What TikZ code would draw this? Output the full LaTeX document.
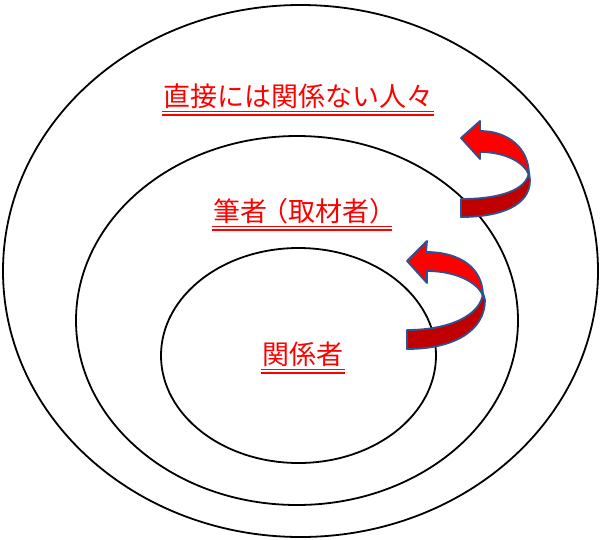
\documentclass[tikz,border=0pt]{standalone}
\usepackage{fontspec}
\newfontfamily\jp{Noto Sans CJK JP}
\begin{document}
\begin{tikzpicture}[x=1pt,y=-1pt,
  ring/.style={draw=black,line width=1.8pt},
  lbl/.style={text=red,font=\jp\fontsize{27}{32}\selectfont,inner sep=0pt,anchor=base},
  uline/.style={draw=red,line width=1.6pt},
  front/.style={fill=red,draw=arrowblue,line width=1.8pt,line join=round},
  back/.style={fill=darkred,draw=arrowblue,line width=1.8pt,line join=round}]
\definecolor{arrowblue}{HTML}{2F528F}
\definecolor{darkred}{HTML}{C00000}
\useasboundingbox (0,0) rectangle (605,539);
\fill[white] (0,0) rectangle (605,539);
% ellipses
\draw[ring] (300.5,271) ellipse [x radius=297.5pt,y radius=266pt];
\draw[ring] (297,320.5) ellipse [x radius=221pt,y radius=184.5pt];
\draw[ring] (298.5,355.5) ellipse [x radius=137.5pt,y radius=107.5pt];
% labels
\node[lbl] (t1) at (298,106) {直接には関係ない人々};
\node[lbl] (t2) at (302,221) {筆者\kern-6pt（取材者）\kern-6pt};
\node[lbl] (t3) at (303,364) {関係者};
\foreach \t in {t1,t2,t3}{
  \draw[uline] ([yshift=-5.5pt,xshift=-1pt]\t.base west) -- ([yshift=-5.5pt,xshift=1pt]\t.base east);
  \draw[uline] ([yshift=-8.7pt,xshift=-1pt]\t.base west) -- ([yshift=-8.7pt,xshift=1pt]\t.base east);
}
% arrow 1
\path[back] (529,172) .. controls (527,190) and (500,199) .. (461,199) -- (461,217)
  .. controls (500,217) and (530,206) .. (530,180) -- cycle;
\path[front] (480,131) .. controls (508,131) and (529,148) .. (529,175)
  .. controls (524,162) and (505,152) .. (480,152) -- (480,159) -- (461,138) -- (480,121) -- cycle;
% arrow 2
\path[back] (483,293) .. controls (481,315) and (450,330) .. (407,330) -- (407,349)
  .. controls (455,349) and (485,330) .. (485,300) -- cycle;
\path[front] (426,252) .. controls (460,252) and (483,268) .. (483,296)
  .. controls (478,282) and (455,271) .. (427,271) -- (427,283) -- (407,261) -- (427,241) -- cycle;
\end{tikzpicture}
\end{document}
